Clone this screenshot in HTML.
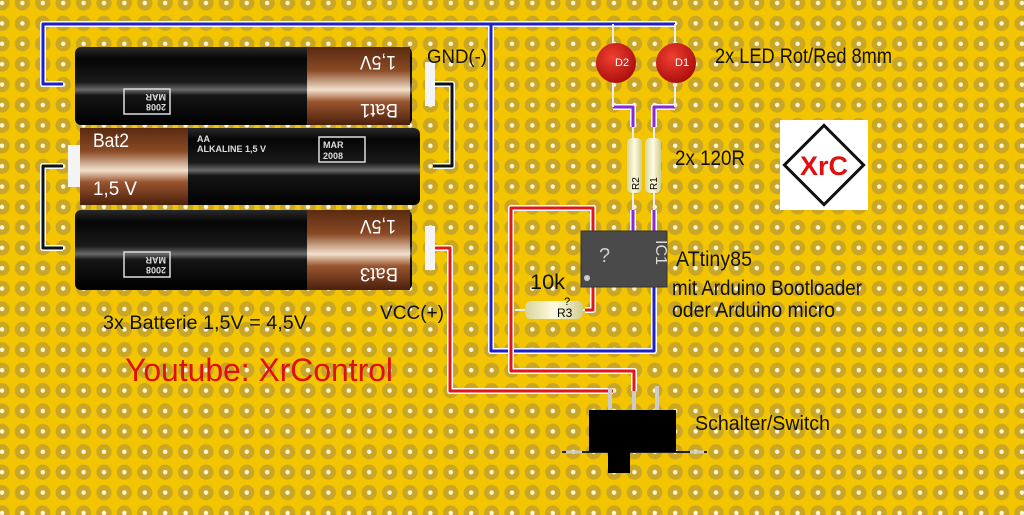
<!DOCTYPE html>
<html><head><meta charset="utf-8"><style>html,body{margin:0;padding:0;background:#f2c500}svg{display:block}</style></head>
<body>
<svg width="1024" height="515" viewBox="0 0 1024 515" xmlns="http://www.w3.org/2000/svg" font-family="Liberation Sans, sans-serif">
<defs>
<pattern id="holes" x="-8.2" y="-7.2" width="20.4" height="20.4" patternUnits="userSpaceOnUse">
<rect width="20.4" height="20.4" fill="#f2c500"/>
<circle cx="10.2" cy="10.2" r="7.6" fill="#c9a626"/>
<circle cx="10.2" cy="10.2" r="2.2" fill="#fff8dc"/>
</pattern>
<linearGradient id="blk" x1="0" y1="0" x2="0" y2="1">
<stop offset="0" stop-color="#2a2a2a"/><stop offset="0.15" stop-color="#050505"/><stop offset="0.45" stop-color="#1a1a1a"/><stop offset="0.55" stop-color="#6a6a6a"/><stop offset="0.62" stop-color="#151515"/><stop offset="1" stop-color="#000"/></linearGradient>
<linearGradient id="cu" x1="0" y1="0" x2="0" y2="1">
<stop offset="0" stop-color="#5a2a10"/><stop offset="0.3" stop-color="#8a4a25"/><stop offset="0.55" stop-color="#f3e0cc"/><stop offset="0.7" stop-color="#9a5530"/><stop offset="1" stop-color="#4a200c"/></linearGradient>
<linearGradient id="res" x1="0" y1="0" x2="1" y2="0">
<stop offset="0" stop-color="#d8d49a"/><stop offset="0.5" stop-color="#fffbe0"/><stop offset="1" stop-color="#d0cc90"/></linearGradient>
<radialGradient id="led" cx="0.4" cy="0.35" r="0.7"><stop offset="0" stop-color="#f04030"/><stop offset="1" stop-color="#a80c0c"/></radialGradient>
</defs>
<rect width="1024" height="515" fill="url(#holes)"/>

<g fill="none" stroke-linejoin="round">
<path d="M63 84 H43 V24 H675 M491 24 V351 H654 V287" stroke="#fff" stroke-width="6"/>
<path d="M63 84 H43 V24 H675 M491 24 V351 H654 V287" stroke="#2020c8" stroke-width="3"/>
<path d="M430 84 H452 V166 H433 M63 166 H43 V248 H63" stroke="#fff" stroke-width="6"/>
<path d="M430 84 H452 V166 H433 M63 166 H43 V248 H63" stroke="#111" stroke-width="3"/>
<path d="M430 248 H450 V391 H613 M593 231 V208 H511 V371 H634 V391 M593 287 V310 H585" stroke="#fff" stroke-width="6"/>
<path d="M430 248 H450 V391 H613 M593 231 V208 H511 V371 H634 V391 M593 287 V310 H585" stroke="#e01818" stroke-width="3"/>
<path d="M613 107 H633 V127 M675 107 H654 V127 M633 210 V231 M654 210 V231" stroke="#fff" stroke-width="6"/>
<path d="M613 107 H633 V127 M675 107 H654 V127 M633 210 V231 M654 210 V231" stroke="#8a2ad0" stroke-width="3"/>
<path d="M613 24 V107 M675 24 V107 M633 127 V210 M654 127 V210 M515 310 H585" stroke="#eee" stroke-width="2"/>
</g>

<rect x="425" y="62" width="10" height="44" fill="#f4f4f4"/>
<rect x="68" y="145" width="12" height="42" fill="#f4f4f4"/>
<rect x="425" y="226" width="10" height="44" fill="#f4f4f4"/>
<rect x="75" y="47" width="337" height="78" rx="6" fill="url(#blk)"/>
<rect x="307" y="47" width="103" height="78" fill="url(#cu)"/>
<rect x="80" y="128" width="340" height="77" rx="6" fill="url(#blk)"/>
<rect x="80" y="128" width="108" height="77" fill="url(#cu)"/>
<rect x="75" y="210" width="337" height="80" rx="6" fill="url(#blk)"/>
<rect x="307" y="210" width="103" height="80" fill="url(#cu)"/>
<g fill="#fff" font-size="19">
<text transform="translate(396,56) rotate(180)" textLength="36" lengthAdjust="spacingAndGlyphs">1,5V</text>
<text transform="translate(398,104) rotate(180)" textLength="38" lengthAdjust="spacingAndGlyphs">Bat1</text>
<text transform="translate(396,220) rotate(180)" textLength="36" lengthAdjust="spacingAndGlyphs">1,5V</text>
<text transform="translate(398,268) rotate(180)" textLength="38" lengthAdjust="spacingAndGlyphs">Bat3</text>
<text x="93" y="147" textLength="36" lengthAdjust="spacingAndGlyphs">Bat2</text>
<text x="93" y="195" textLength="44" lengthAdjust="spacingAndGlyphs">1,5 V</text>
</g>
<g fill="none" stroke="#ddd" stroke-width="1.5">
<rect x="124" y="89" width="46" height="25"/><rect x="124" y="252" width="46" height="25"/><rect x="319" y="137" width="46" height="25"/>
</g>
<g fill="#ddd" font-size="9" font-weight="bold">
<text x="323" y="148">MAR</text><text x="323" y="159">2008</text>
<text x="197" y="142">AA</text><text x="197" y="152">ALKALINE 1,5 V</text>
<text transform="translate(166,94) rotate(180)">MAR</text><text transform="translate(166,104) rotate(180)">2008</text>
<text transform="translate(166,257) rotate(180)">MAR</text><text transform="translate(166,267) rotate(180)">2008</text>
</g>

<circle cx="616" cy="63" r="20" fill="url(#led)"/>
<circle cx="676" cy="63" r="20" fill="url(#led)"/>
<text x="615" y="66" fill="#fff" font-size="11">D2</text>
<text x="675" y="66" fill="#fff" font-size="11">D1</text>

<rect x="627" y="138" width="15" height="55" rx="5" fill="url(#res)"/>
<rect x="645" y="138" width="16" height="55" rx="5" fill="url(#res)"/>
<text transform="translate(639,190) rotate(-90)" font-size="10">R2</text>
<text transform="translate(657,190) rotate(-90)" font-size="10">R1</text>
<rect x="525" y="301" width="58" height="18" rx="6" fill="url(#res)"/>
<text x="557" y="317" font-size="12">R3</text>
<text x="564" y="305" font-size="11">?</text>

<rect x="581" y="231" width="86" height="56" fill="#4a4a4a" stroke="#333"/>
<text x="599" y="262" fill="#ccc" font-size="20">?</text>
<text transform="translate(656,240) rotate(90)" fill="#ddd" font-size="16">IC1</text>
<circle cx="587" cy="278" r="3" fill="#ccc"/>

<path d="M610 410 V388 M634 410 V391 M657 410 V386" stroke="#ccc" stroke-width="4"/>
<path d="M562 452 H707" stroke="#222" stroke-width="2"/>
<path d="M566 452 H582 M690 452 H704" stroke="#ccc" stroke-width="3"/>
<rect x="589" y="410" width="87" height="42" fill="#000"/>
<rect x="608" y="450" width="22" height="23" fill="#000"/>

<rect x="780" y="120" width="88" height="90" fill="#fff"/>
<rect x="796" y="137" width="56" height="56" transform="rotate(45 824 165)" fill="#fff" stroke="#111" stroke-width="3"/>
<text x="824" y="175" text-anchor="middle" fill="#e01010" font-size="27" font-weight="bold">XrC</text>

<g fill="#111" lengthAdjust="spacingAndGlyphs">
<text x="427" y="63" font-size="19" textLength="60" lengthAdjust="spacingAndGlyphs">GND(-)</text>
<text x="715" y="63" font-size="21" textLength="177" lengthAdjust="spacingAndGlyphs">2x LED Rot/Red 8mm</text>
<text x="675" y="165" font-size="21" textLength="70" lengthAdjust="spacingAndGlyphs">2x 120R</text>
<text x="676" y="266" font-size="21" textLength="76" lengthAdjust="spacingAndGlyphs">ATtiny85</text>
<text x="672" y="295" font-size="21" textLength="190" lengthAdjust="spacingAndGlyphs">mit Arduino Bootloader</text>
<text x="672" y="317" font-size="21" textLength="163" lengthAdjust="spacingAndGlyphs">oder Arduino micro</text>
<text x="530" y="289" font-size="21" textLength="35" lengthAdjust="spacingAndGlyphs">10k</text>
<text x="103" y="329" font-size="19" textLength="204" lengthAdjust="spacingAndGlyphs">3x Batterie 1,5V = 4,5V</text>
<text x="380" y="319" font-size="19" textLength="64" lengthAdjust="spacingAndGlyphs">VCC(+)</text>
<text x="695" y="430" font-size="20" textLength="135" lengthAdjust="spacingAndGlyphs">Schalter/Switch</text>
</g>
<text x="125" y="381" font-size="32" fill="#e01010" textLength="268" lengthAdjust="spacingAndGlyphs">Youtube: XrControl</text>
</svg>
</body></html>
